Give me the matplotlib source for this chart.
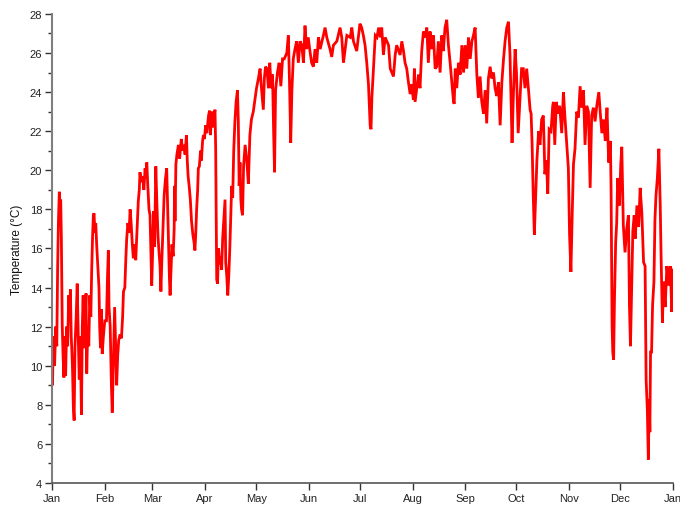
import numpy as np
import matplotlib
matplotlib.use("Agg")
import matplotlib.pyplot as plt
import matplotlib.dates as mdates
from matplotlib.ticker import MultipleLocator
from datetime import datetime

plt.rcParams['font.family'] = ['Liberation Sans', 'DejaVu Sans']

# day-of-year (0 = Jan 1) and temperature (°C)
days = [0, 0.3, 0.8, 1.5, 2.2, 2.8, 3.3, 3.8, 4.3, 4.7, 5.1, 5.5, 6.0, 6.5, 7.0, 7.5, 8.0, 8.6, 9.2, 9.8,
        10.3, 10.8, 11.3, 12.0, 12.5, 13.0, 13.5, 14.2, 14.8, 15.3, 16.0, 16.6, 17.3, 17.8, 18.3, 18.8, 19.4, 20.0, 20.4, 21.0,
        21.6, 22.2, 22.8, 23.3, 23.8, 24.3, 24.7, 25.2, 25.7, 26.3, 27.0, 27.6, 28.0, 28.5, 29.0, 29.5, 30.2, 31.0,
        32.0, 32.6, 33.1, 33.5, 34.2, 34.9, 35.4, 36.0, 36.8, 37.4, 38.0, 38.6, 39.2, 40.0, 40.8, 41.5, 42.0, 42.8,
        43.4, 43.9, 44.6, 45.3, 45.9, 46.5, 47.2, 47.8, 48.5, 49.2, 50.0, 50.7, 51.3, 51.7, 52.4, 53.2, 54.0, 54.7,
        55.3, 55.7, 56.3, 57.0, 57.6, 58.2, 58.6, 59.2, 59.7, 60.3, 61.0, 61.6, 62.3, 62.9, 63.5, 64.0, 64.6, 65.2,
        65.9, 66.6, 67.4, 68.0, 68.5, 69.0, 69.4, 70.0, 70.5, 71.2, 71.8, 72.0, 72.3, 72.8, 73.4, 74.3, 75.0, 76.0,
        76.8, 77.5, 78.2, 79.0, 79.5, 80.0, 80.6, 81.3, 82.0, 82.8, 83.5, 84.0, 84.5, 85.0, 85.6, 86.0, 86.6, 87.3,
        87.8, 88.5, 89.0, 89.6, 90.3, 91.0, 92.0, 92.6, 93.1, 93.6, 94.2, 94.8, 95.4, 95.8, 96.2, 96.8, 97.3, 97.9,
        98.5, 99.0, 99.7, 100.3, 101.0, 101.7, 102.1, 102.7, 103.3, 103.9, 104.5, 105.0, 105.6, 106.2, 106.8, 107.5,
        108.2, 109.0, 109.5, 110.0, 110.5, 111.0, 111.4, 112.0, 112.6, 113.5, 114.5, 115.4, 116.3, 117.2, 118.3, 119.3,
        120.2, 121.3, 122.3, 123.0, 124.2, 124.8, 125.5, 126.3, 127.2, 128.0, 128.8, 129.6, 130.3, 130.8, 131.4, 132.5,
        133.5, 134.5, 135.5, 136.5, 138.0, 138.9, 139.6, 140.3, 141.0, 141.8, 142.8, 143.8, 144.8, 145.8, 146.8, 147.8,
        148.7, 149.6, 150.6, 151.6, 152.6, 153.6, 154.6, 155.6, 156.6, 157.6, 159.5, 160.5, 161.5, 163.4, 164.4, 165.4,
        167.4, 169.3, 170.3, 171.3, 172.3, 173.3, 175.3, 176.2, 177.2, 179.1, 181.0, 182.0, 183.0, 184.0, 185.0, 186.0,
        187.0, 187.5, 188.0, 189.0, 190.0, 191.0, 192.0, 193.0, 193.8, 194.8, 195.8, 197.8, 198.8, 200.7, 201.7, 202.6,
        204.6, 205.6, 206.6, 207.5, 208.5, 209.5, 210.5, 211.4, 212.4, 213.0, 213.4, 214.4, 215.4, 216.3, 217.3, 218.3,
        219.3, 220.3, 221.2, 222.2, 223.2, 224.2, 225.2, 226.1, 227.1, 228.1, 229.1, 230.0, 231.0, 232.0, 233.0, 234.0,
        235.0, 236.0, 236.4, 237.0, 237.9, 238.9, 239.9, 240.9, 241.9, 242.8, 243.8, 244.8, 245.8, 246.8, 247.7, 248.7,
        249.7, 250.6, 251.6, 252.6, 253.6, 254.6, 255.5, 256.5, 257.5, 258.5, 259.5, 260.4, 261.4, 262.4, 263.4, 264.4,
        265.4, 266.3, 267.3, 268.3, 269.2, 270.4, 271.2, 272.2, 273.0, 274.0, 275.0, 276.0, 277.0, 278.0, 279.0, 280.0,
        281.0, 281.6, 282.2, 282.8, 283.5, 284.2, 285.0, 286.0, 286.8, 287.8, 288.8, 289.7, 290.6, 291.4, 292.2, 293.3,
        294.3, 294.7, 295.5, 296.4, 297.4, 298.4, 299.6, 300.6, 301.5, 303.5, 304.2, 305.0, 305.8, 306.5, 307.4, 308.4,
        309.4, 310.4, 311.4, 312.4, 313.3, 314.3, 315.3, 316.3, 317.2, 318.2, 319.2, 320.2, 321.4, 322.2, 323.2, 324.2,
        325.2, 326.2, 327.2, 328.2, 328.6, 329.2, 329.6, 330.1, 330.6, 331.3, 331.9, 332.5, 333.5, 334.3, 334.9, 335.8,
        336.8, 337.8, 338.8, 339.4, 340.0, 340.8, 341.4, 342.2, 342.8, 343.8, 344.8, 345.7, 346.7, 347.7, 348.6, 349.2,
        349.9, 350.5, 351.0, 351.4, 351.8, 352.4, 353.0, 353.8, 354.4, 355.0, 355.8, 356.7, 357.5, 358.0, 358.8, 359.4,
        360.4, 361.4, 362.4, 363.4, 364.3, 365.0]

temps = [10.5, 9.0, 11.5, 10.0, 12.0, 11.0, 15.0, 17.5, 18.9, 17.8, 18.5, 16.5, 12.1, 10.5, 9.4, 11.5, 9.5, 12.0, 11.0, 13.6,
         12.5, 13.9, 11.5, 10.0, 8.0, 7.2, 11.0, 12.5, 14.2, 12.0, 9.3, 11.5, 7.5, 12.0, 13.6, 10.9, 12.5, 13.7, 9.6, 12.0,
         11.0, 13.6, 12.5, 14.8, 16.5, 17.7, 17.8, 16.8, 17.3, 16.1, 15.0, 14.0, 12.0, 10.9, 12.9, 10.6, 11.5, 12.3,
         12.3, 14.5, 15.9, 13.0, 12.0, 9.0, 7.6, 10.0, 13.0, 11.0, 9.0, 10.5, 11.3, 11.6, 11.4, 12.5, 13.8, 14.0,
         15.5, 16.5, 17.3, 16.8, 18.0, 17.3, 16.2, 15.5, 16.2, 15.4, 17.0, 18.4, 19.0, 19.9, 19.4, 19.7, 19.0, 20.1,
         19.6, 20.4, 19.2, 18.0, 17.7, 15.5, 14.1, 16.0, 17.9, 16.1, 20.2, 18.4, 16.6, 15.8, 15.1, 13.8, 15.5, 17.0,
         18.7, 19.5, 20.1, 18.0, 16.2, 14.5, 13.6, 15.0, 16.2, 15.6, 17.0, 19.2, 17.4, 20.3, 20.8, 21.3, 20.6, 21.6,
         21.0, 21.3, 20.8, 21.8, 20.5, 19.7, 19.2, 18.5, 17.4, 16.7, 16.3, 15.9, 16.8, 18.0, 19.0, 20.1, 20.2, 21.0,
         20.5, 21.5, 21.8, 21.6, 22.3, 21.9, 22.8, 23.05, 21.8, 22.5, 23.0, 22.2, 22.9, 23.1, 21.1, 14.4, 14.2, 16.0,
         15.2, 15.6, 14.9, 16.5, 17.5, 18.5, 15.3, 14.6, 13.6, 14.6, 16.0, 17.5, 19.2, 18.6, 21.0, 22.5,
         23.5, 24.1, 22.5, 19.2, 20.4, 18.5, 18.0, 17.7, 20.2, 21.3, 20.5, 19.3, 21.8, 22.6, 23.0, 23.65,
         24.2, 24.7, 25.2, 24.3, 23.1, 24.7, 25.3, 25.2, 24.2, 25.5, 24.2, 24.9, 21.8, 19.9, 24.1, 25.0,
         25.5, 24.3, 25.7, 25.7, 26.0, 26.9, 24.5, 21.4, 24.1, 25.7, 26.2, 26.6, 25.5, 26.6, 26.4, 25.5,
         27.4, 26.2, 26.8, 26.1, 25.5, 25.3, 26.2, 25.5, 26.8, 26.2, 26.9, 27.3, 26.8, 26.2, 25.8, 26.4,
         26.6, 27.3, 26.8, 25.5, 26.2, 26.9, 26.8, 27.3, 26.6, 26.1, 27.5, 27.3, 26.9, 26.4, 25.5, 24.4,
         22.3, 22.1, 23.7, 25.3, 26.9, 26.8, 27.3, 26.8, 27.3, 25.9, 26.8, 26.4, 25.2, 24.8, 25.9, 26.4,
         25.9, 26.6, 26.1, 25.5, 25.2, 24.5, 23.9, 24.4, 23.6, 25.2, 23.5, 24.2, 24.9, 24.2, 26.1, 27.1,
         26.8, 27.3, 25.5, 27.1, 26.2, 26.9, 25.2, 25.3, 26.6, 25.0, 26.9, 26.1, 27.3, 27.7, 26.4, 25.5,
         24.5, 23.5, 23.4, 25.2, 24.2, 25.5, 24.9, 26.4, 25.0, 26.4, 25.2, 26.8, 25.7, 26.6, 26.9, 27.3,
         24.9, 23.7, 24.8, 23.5, 22.9, 24.1, 22.4, 24.7, 25.3, 24.7, 25.0, 24.2, 23.8, 24.5, 22.3, 24.5,
         25.7, 26.6, 27.3, 27.6, 25.9, 21.4, 23.9, 26.2, 25.0, 21.9, 23.5, 25.2, 25.2, 24.2, 25.2, 24.2,
         23.1, 22.9, 21.3, 18.9, 16.7, 18.5, 20.5, 22.0, 21.3, 22.6, 22.8, 19.8, 20.5, 18.8, 22.1, 22.0,
         23.3, 23.5, 21.3, 23.5, 22.9, 23.3, 21.9, 24.0, 22.7, 20.1, 16.7, 14.8, 17.9, 20.3, 21.1, 23.0,
         22.7, 24.3, 23.2, 24.1, 21.3, 23.3, 23.0, 19.1, 22.8, 23.2, 22.5, 23.3, 24.0, 23.0, 21.9, 22.6,
         21.5, 23.2, 20.4, 21.5, 19.1, 12.05, 10.7, 10.3, 13.4, 16.3, 17.3, 19.6, 18.2, 20.3, 21.2, 17.2,
         15.8, 17.0, 17.7, 13.1, 11.0, 14.3, 16.9, 17.7, 16.5, 18.2, 17.1, 19.1, 17.8, 15.3, 15.1, 9.3,
         7.8, 5.2, 8.3, 6.6, 10.7, 10.7, 13.1, 14.3, 17.5, 18.7, 19.6, 21.1, 18.2, 15.6, 12.2, 14.3,
         13.0, 15.1, 14.1, 15.1, 12.75, 14.9]

month_labels = ['Jan', 'Feb', 'Mar', 'Apr', 'May', 'Jun', 'Jul', 'Aug', 'Sep', 'Oct', 'Nov', 'Dec', 'Jan']
y_label = 'Temperature (°C)'

start = mdates.date2num(datetime(2019, 1, 1))
x = start + np.array(days)
y = np.array(temps)

fig = plt.figure(figsize=(6.8, 5.06), dpi=100)
ax = fig.add_axes([0.0765, 0.0435, 0.9132, 0.927])
ax.plot(x, y, color='#ff0000', lw=2.0, solid_joinstyle='miter')

month_ticks = [mdates.date2num(datetime(2019, m, 1)) for m in range(1, 13)] + [mdates.date2num(datetime(2020, 1, 1))]
ax.set_xticks(month_ticks)
ax.set_xticklabels(month_labels)
ax.set_xlim(month_ticks[0], month_ticks[-1])
ax.set_ylim(4, 28)
ax.yaxis.set_major_locator(MultipleLocator(2))
ax.yaxis.set_minor_locator(MultipleLocator(1))

for s in ['top', 'right']:
    ax.spines[s].set_visible(False)
ax.spines['left'].set_color('#7f7f7f')
ax.spines['left'].set_linewidth(1.5)
ax.spines['bottom'].set_color('#555555')
ax.spines['bottom'].set_linewidth(1.2)

ax.tick_params(axis='both', which='major', length=5, width=1.0, color='#333333',
               labelsize=8, labelcolor='#222222', pad=2)
ax.tick_params(axis='y', which='minor', length=3, width=1.0, color='#333333')
ax.set_ylabel(y_label, fontsize=8.5, color='#111111', labelpad=5)

fig.savefig('out.png', dpi=100)
